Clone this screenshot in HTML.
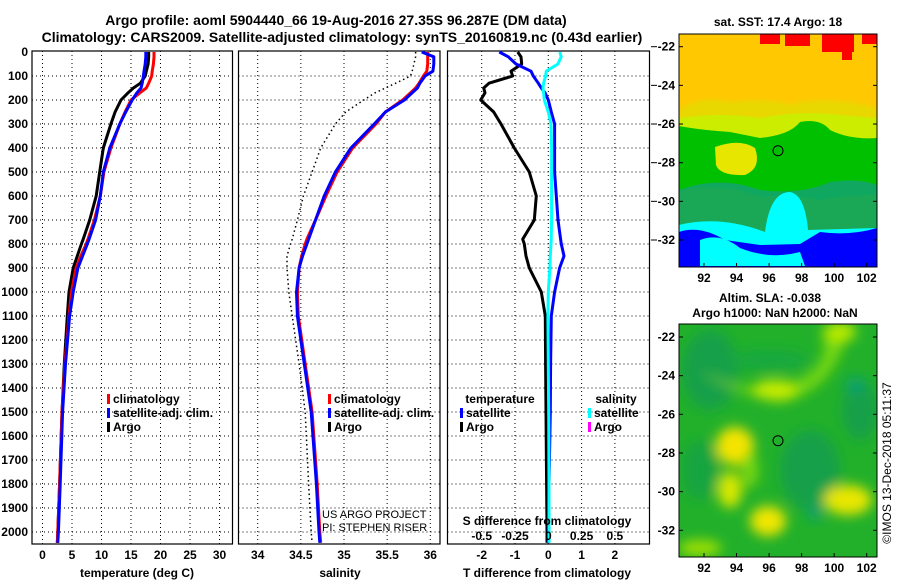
<!DOCTYPE html>
<html><head><meta charset="utf-8"><style>
body{margin:0;background:#fff;}
svg text{font-family:"Liberation Sans",sans-serif;font-weight:bold;fill:#000;}
</style></head><body>
<svg id="fig" width="900" height="580" viewBox="0 0 900 580" xmlns="http://www.w3.org/2000/svg">
<defs>
<filter id="blur4" x="-20%" y="-20%" width="140%" height="140%"><feGaussianBlur stdDeviation="6"/></filter>
<filter id="blur2"><feGaussianBlur stdDeviation="2"/></filter>
<clipPath id="clipTop"><rect x="679" y="34" width="198" height="233"/></clipPath>
<clipPath id="clipBot"><rect x="679" y="324" width="198" height="233"/></clipPath>
</defs>
<text x="336" y="25" font-size="14" text-anchor="middle">Argo profile: aoml 5904440_66 19-Aug-2016 27.35S 96.287E (DM data)</text>
<text x="342" y="42" font-size="14" text-anchor="middle">Climatology: CARS2009. Satellite-adjusted climatology: synTS_20160819.nc (0.43d earlier)</text>
<g id="p1"></g>
<g id="p2"></g>
<g id="p3"></g>

<!-- top map -->
<g clip-path="url(#clipTop)">
<rect x="679" y="34" width="198" height="233" fill="#ffc800"/>
<g fill="#ff0000">
<rect x="760" y="34" width="20" height="10"/><rect x="785" y="34" width="25" height="12"/><rect x="822" y="34" width="32" height="18"/><rect x="842" y="50" width="10" height="10"/><rect x="862" y="34" width="15" height="10"/>
</g>
<path d="M679 110 Q700 95 730 102 Q760 98 790 104 Q830 95 877 108 L877 130 L679 130Z" fill="#e8d800" filter="url(#blur2)"/>
<path d="M679 118 Q720 112 760 118 Q800 110 840 115 L877 118 L877 140 L679 140Z" fill="#ccec00"/>
<path d="M679 126 Q700 130 730 132 L760 138 Q790 135 800 122 Q820 118 830 130 Q850 140 877 138 L877 270 L679 270Z" fill="#00c000"/>
<path d="M715 147 Q740 138 755 148 Q762 168 745 175 Q720 176 716 165Z" fill="#e6e600"/>
<path d="M679 190 Q720 175 760 190 Q800 195 830 182 Q860 178 877 185 L877 270 L679 270Z" fill="#10a860"/>
<path d="M679 192 Q700 184 740 190 L760 197 Q790 194 820 200 Q845 195 877 195 L877 270 L679 270Z" fill="#22a850" opacity="0.6"/>
<path d="M765 232 Q770 192 790 192 Q805 195 808 230 L877 228 L877 270 L679 270 L679 225 Q720 215 765 232Z" fill="#00ffff"/>
<path d="M679 232 Q700 225 725 240 L760 245 L800 244 L820 232 Q850 236 877 228 L877 270 L679 270Z" fill="#0000ff"/>
<path d="M700 240 Q720 232 740 248 Q770 260 800 252 L805 266 L700 266Z" fill="#00ffff"/>
</g>
<rect x="679" y="34" width="198" height="233" fill="none" stroke="#000"/>
<circle cx="778" cy="150.7" r="5" fill="none" stroke="#000"/>
<text x="778" y="26" font-size="12" text-anchor="middle">sat. SST: 17.4 Argo: 18</text>

<!-- bottom map -->
<g clip-path="url(#clipBot)">
<rect x="679" y="324" width="198" height="233" fill="#22b02a"/>
<g filter="url(#blur4)">
<ellipse cx="710" cy="370" rx="28" ry="40" fill="#14a048"/>
<ellipse cx="810" cy="470" rx="30" ry="40" fill="#14a048"/>
<ellipse cx="860" cy="410" rx="18" ry="30" fill="#14a048"/>
<ellipse cx="770" cy="360" rx="40" ry="10" fill="#18a840"/>
<ellipse cx="700" cy="470" rx="18" ry="30" fill="#18a440"/>
<path d="M820 330 Q835 360 800 380 Q760 395 720 380 L700 372 Q740 395 780 402 Q830 392 845 340Z" fill="#78d810"/>
<ellipse cx="775" cy="390" rx="22" ry="10" fill="#c8ec00"/>
<ellipse cx="840" cy="332" rx="16" ry="10" fill="#b8ea00"/>
<ellipse cx="735" cy="446" rx="19" ry="19" fill="#f4e400"/>
<ellipse cx="730" cy="490" rx="12" ry="18" fill="#d8e800"/>
<ellipse cx="768" cy="521" rx="18" ry="15" fill="#f0e600"/>
<ellipse cx="848" cy="500" rx="24" ry="15" fill="#e8e600"/>
<ellipse cx="700" cy="548" rx="22" ry="8" fill="#a0e000"/>
<ellipse cx="750" cy="470" rx="8" ry="18" fill="#78d810"/>
<ellipse cx="815" cy="513" rx="7" ry="8" fill="#10a070"/>
<ellipse cx="855" cy="385" rx="10" ry="8" fill="#10a070"/>
</g>
</g>
<rect x="679" y="324" width="198" height="233" fill="none" stroke="#000"/>
<circle cx="778" cy="440.7" r="5" fill="none" stroke="#000"/>
<text x="770" y="302" font-size="12" text-anchor="middle">Altim. SLA: -0.038</text>
<text x="775" y="317" font-size="12" text-anchor="middle">Argo h1000: NaN h2000: NaN</text>
<text x="0" y="0" font-size="12" style="font-weight:normal" transform="translate(891,463) rotate(-90)" text-anchor="middle">©IMOS 13-Dec-2018 05:11:37</text>
<g id="maps-axes"></g>
</svg>
<script>
// depth grid for profiles
const depths = [0,20,50,80,100,130,150,170,200,250,300,400,500,600,700,780,800,850,900,1000,1100,1300,1500,1800,2000,2045];
const tempClim = [18.9,18.9,18.8,18.6,18.5,18.0,17.6,16.5,15.0,14.0,13.1,11.6,10.4,9.8,8.8,7.7,7.4,6.5,5.7,4.9,4.5,3.8,3.3,2.9,2.6,2.5];
const tempSat  = [17.5,17.5,17.4,17.2,17.1,16.9,16.7,16.0,15.2,14.1,13.1,11.4,10.3,9.8,9.0,7.9,7.6,6.8,6.0,5.2,4.6,3.9,3.4,3.0,2.7,2.6];
const tempArgo = [18.0,18.0,17.9,17.6,17.4,16.6,15.4,14.5,13.3,12.3,11.6,10.3,9.7,9.1,8.0,6.9,6.6,5.9,5.2,4.5,4.2,3.7,3.3,2.9,2.6,2.5];
const salClim  = [35.97,35.97,35.97,35.96,35.92,35.87,35.83,35.77,35.68,35.48,35.37,35.10,34.92,34.79,34.67,34.57,34.55,34.51,34.48,34.46,34.47,34.55,34.63,34.69,34.72,34.73];
const salSat   = [35.90,36.04,36.04,36.03,35.94,35.88,35.85,35.79,35.70,35.48,35.35,35.08,34.90,34.77,34.67,34.59,34.57,34.52,34.48,34.45,34.46,34.54,34.62,34.68,34.71,34.72];
const salArgo  = [35.83,35.83,35.81,35.79,35.77,35.60,35.48,35.36,35.23,35.02,34.90,34.73,34.63,34.53,34.46,34.40,34.38,34.34,34.34,34.36,34.40,34.48,34.55,34.59,34.62,34.63];
const dTArgo = [-0.92,-0.82,-0.80,-1.12,-1.07,-1.78,-1.94,-1.90,-2.03,-1.64,-1.42,-1.02,-0.57,-0.36,-0.42,-0.77,-0.72,-0.67,-0.57,-0.21,-0.09,-0.08,-0.07,-0.05,-0.04,-0.04];
const dTSat  = [-1.47,-1.20,-0.97,-0.52,-0.45,-0.30,-0.21,-0.10,0.00,0.09,0.19,0.19,0.19,0.24,0.29,0.37,0.39,0.47,0.34,0.19,0.09,0.07,0.06,0.02,0.00,0.00];
const dSSat  = [0.086,0.097,0.072,-0.015,-0.02,-0.035,-0.04,-0.035,-0.03,0.0,0.02,0.025,0.025,0.025,0.025,0.022,0.02,0.015,0.012,0.0,-0.003,0.0,0.003,0.005,0.006,0.006];
const depthTicks = [0,100,200,300,400,500,600,700,800,900,1000,1100,1200,1300,1400,1500,1600,1700,1800,1900,2000];
const tempTicks = [0,5,10,15,20,25,30];
const salTicks = [34,34.5,35,35.5,36];
const salTickLabels = ["34","34.5","35","35.5","36"];
const dTTicks = [-2,-1,0,1,2];
const dSTicks = [-0.5,-0.25,0,0.25,0.5];
const dSTickLabels = ["-0.5","-0.25","0","0.25","0.5"];
const latTicks = [-22,-24,-26,-28,-30,-32];
const lonTicks = [92,94,96,98,100,102];

const NS="http://www.w3.org/2000/svg";
const TOP=51, BOT=544;
const yD = d => 52 + d*0.24;
const xT = t => 42.5 + t*5.9;
const xS = s => 257.7 + (s-34)*86.3;
const xdT = t => 548.3 + t*33.3;
const xdS = s => 548.3 + s*133.2;
function el(tag, attrs, parent){const e=document.createElementNS(NS,tag);for(const k in attrs)e.setAttribute(k,attrs[k]);parent.appendChild(e);return e;}
function txt(parent,x,y,s,size,anchor){const t=el('text',{x:x,y:y,'font-size':size,'text-anchor':anchor||'middle'},parent);t.textContent=s;return t;}

function panel(g,x0,x1,xs,ticks,labels){
  for(const d of depthTicks){ if(d===0)continue;
    const l=el('line',{x1:x0,x2:x1,y1:yD(d),y2:yD(d),stroke:'#000','stroke-dasharray':'1,3','stroke-width':1},g);
    
    
  }
  ticks.forEach((v,i)=>{
    const l=el('line',{x1:xs(v),x2:xs(v),y1:TOP,y2:BOT,stroke:'#000','stroke-dasharray':'1,3','stroke-width':1},g);
    
    
    if(labels){const t=txt(g,xs(v),559,labels[i],12);
      
      }
  });
  const r=el('rect',{x:x0,y:TOP,width:x1-x0,height:BOT-TOP,fill:'none',stroke:'#000','stroke-width':1.2},g);
  
  
}
function line(g,xs,vals,color,w,name,dash){
  const pts=vals.map((v,i)=>xs(v).toFixed(1)+','+yD(depths[i]).toFixed(1)).join(' ');
  const p=el('polyline',{points:pts,fill:'none',stroke:color,'stroke-width':w,'stroke-linejoin':'round'},g);
  if(dash)p.setAttribute('stroke-dasharray',dash);
  
  
}
function legend(g,x,y,color,label){
  const r=el('rect',{x:x,y:y-9,width:3,height:10,fill:color},g);
  
  
  const t=txt(g,x+6,y,label,12,'start');
  
  
}
const p1=document.getElementById('p1'),p2=document.getElementById('p2'),p3=document.getElementById('p3');
panel(p1,32,232.5,xT,tempTicks,tempTicks.map(String));
depthTicks.forEach(d=>{const t=txt(p1,28,yD(d)+4,String(d),12,'end');
  
  });
line(p1,xT,tempArgo,'#000',3,'argo-temperature-line');
line(p1,xT,tempClim,'#f00',3,'climatology-temperature-line');
line(p1,xT,tempSat,'#00f',3,'satellite-temperature-line');
legend(p1,107,403,'#f00','climatology');
legend(p1,107,417,'#00f','satellite-adj. clim.');
legend(p1,107,431,'#000','Argo');
let t=txt(p1,137,577,'temperature (deg C)',12);

panel(p2,238.5,440,xS,salTicks,salTickLabels);
line(p2,xS,salArgo,'#000',1.5,'argo-salinity-line','1.5,3');
line(p2,xS,salClim,'#f00',3,'climatology-salinity-line');
line(p2,xS,salSat,'#00f',3,'satellite-salinity-line');
legend(p2,328,403,'#f00','climatology');
legend(p2,328,417,'#00f','satellite-adj. clim.');
legend(p2,328,431,'#000','Argo');
t=txt(p2,340,577,'salinity',12);
t=txt(p2,322,518,'US ARGO PROJECT',11,'start');t.style.fontWeight='normal';
t=txt(p2,322,531,'PI: STEPHEN RISER',11,'start');t.style.fontWeight='normal';

panel(p3,447.5,649.5,xdT,dTTicks,dTTicks.map(String));
line(p3,xdT,dTArgo,'#000',3,'argo-temperature-difference-line');
line(p3,xdT,dTSat,'#00f',3,'satellite-temperature-difference-line');
line(p3,xdS,dSSat,'#0ff',3,'satellite-salinity-difference-line');
t=txt(p3,500,403,'temperature',12);
legend(p3,460,417,'#00f','satellite');
legend(p3,460,431,'#000','Argo');
t=txt(p3,616,403,'salinity',12);
legend(p3,588,417,'#0ff','satellite');
legend(p3,588,431,'#f0f','Argo');
t=txt(p3,547,525,'S difference from climatology',12);
dSTicks.forEach((v,i)=>{const s=txt(p3,xdS(v),540,dSTickLabels[i],12);
  
  });
t=txt(p3,547,577,'T difference from climatology',12);
latTicks.forEach(v=>{const y=46.7+(-22-v)*19.33;
  const l=el('line',{x1:651,x2:657,y1:y,y2:y,stroke:'#000'},p3);
  
  });

const ma=document.getElementById('maps-axes');
[[46.7,282],[337,572]].forEach(([y22,ylab])=>{
  const top=y22<100?34:324, bot=top+233;
  latTicks.forEach(v=>{const y=y22+(-22-v)*19.33;
    const s=txt(ma,675,y+4,String(v),12,'end');
    
    
    const l=el('line',{x1:679,x2:683,y1:y,y2:y,stroke:'#000'},ma);
    
    
    const l2=el('line',{x1:873,x2:877,y1:y,y2:y,stroke:'#000'},ma);
    
    });
  lonTicks.forEach(v=>{const x=704+(v-92)*16.27;
    const s=txt(ma,x,ylab,String(v),12);
    
    
    const l=el('line',{x1:x,x2:x,y1:bot-4,y2:bot,stroke:'#000'},ma);
    
    });
});
</script>
</body></html>
